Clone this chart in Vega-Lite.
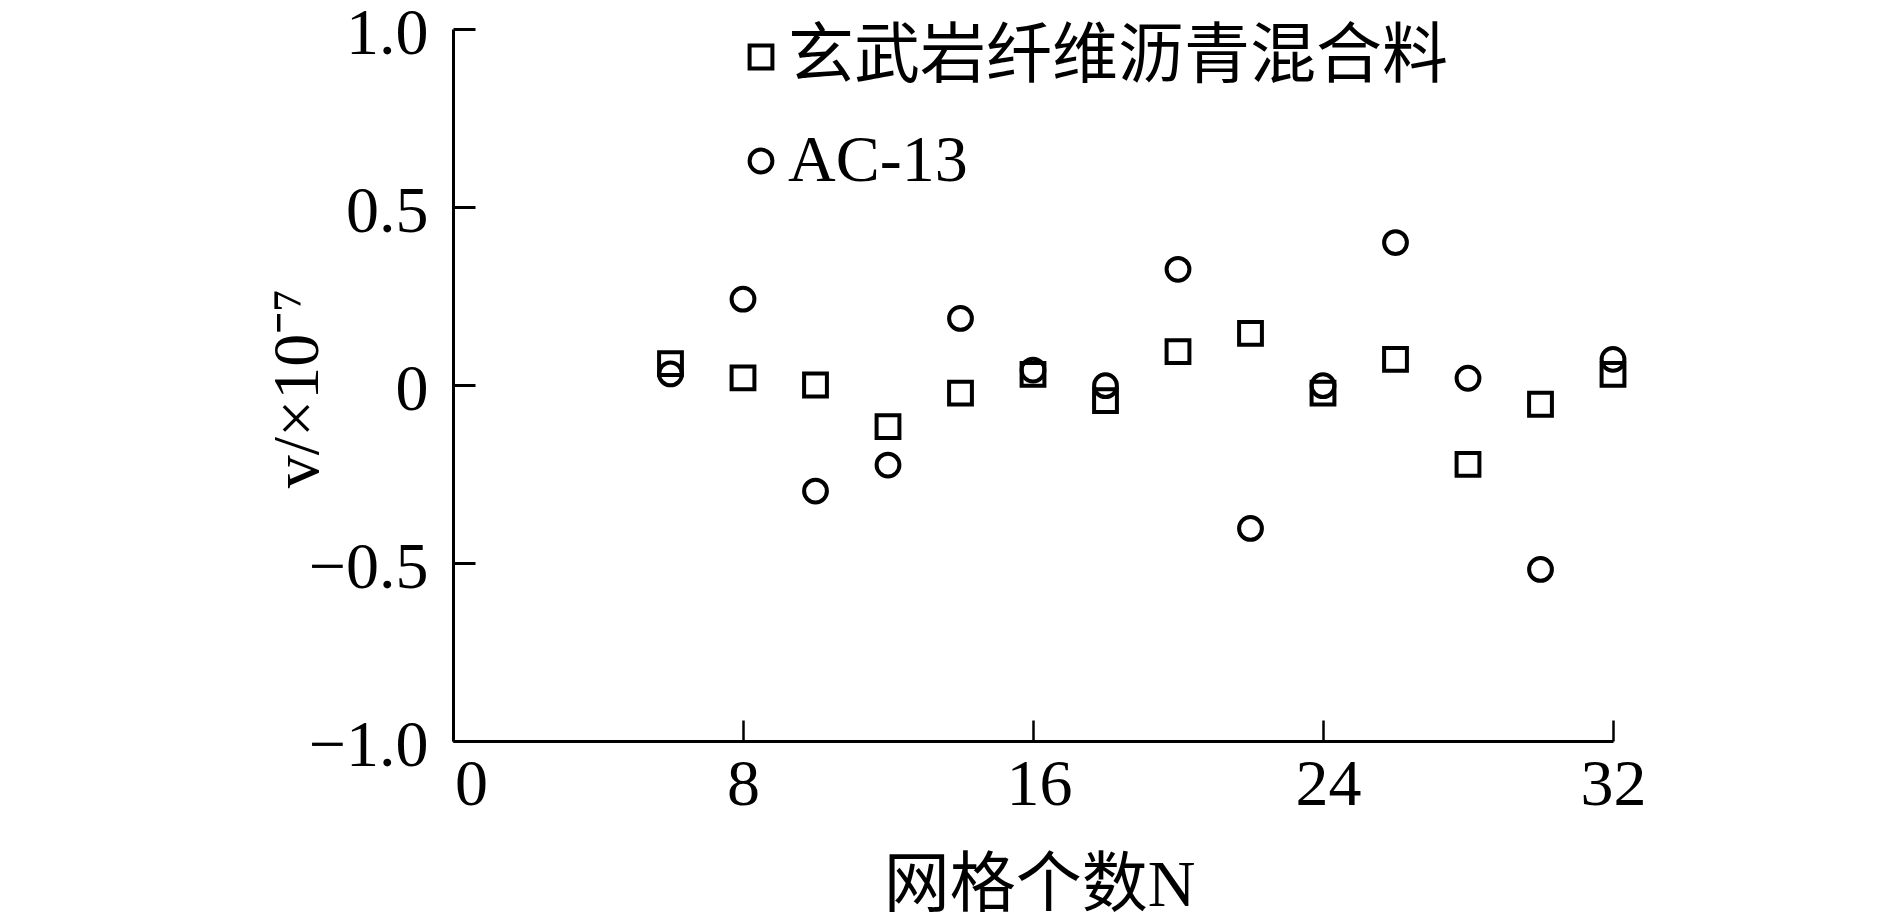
{
  "$schema": "https://vega.github.io/schema/vega-lite/v6.json",
  "width": 1160,
  "height": 712,
  "autosize": "none",
  "padding": {"left": 453, "top": 29, "right": 277, "bottom": 178},
  "background": "white",
  "config": {
    "view": {"stroke": null},
    "font": "Liberation Serif",
    "axis": {"grid": false, "domainColor": "black", "tickColor": "black", "labelColor": "black", "titleColor": "black", "labelFont": "Liberation Serif", "titleFont": "Liberation Serif, Noto Sans CJK SC", "labelFontSize": 66, "titleFontSize": 66, "titleFontWeight": "normal", "domainWidth": 3}
  },
  "data": {
    "values": [
      {"N": 6, "v": 0.06, "s": "玄武岩纤维沥青混合料"},
      {"N": 8, "v": 0.02, "s": "玄武岩纤维沥青混合料"},
      {"N": 10, "v": 0.0, "s": "玄武岩纤维沥青混合料"},
      {"N": 12, "v": -0.117, "s": "玄武岩纤维沥青混合料"},
      {"N": 14, "v": -0.023, "s": "玄武岩纤维沥青混合料"},
      {"N": 16, "v": 0.03, "s": "玄武岩纤维沥青混合料"},
      {"N": 18, "v": -0.044, "s": "玄武岩纤维沥青混合料"},
      {"N": 20, "v": 0.094, "s": "玄武岩纤维沥青混合料"},
      {"N": 22, "v": 0.145, "s": "玄武岩纤维沥青混合料"},
      {"N": 24, "v": -0.023, "s": "玄武岩纤维沥青混合料"},
      {"N": 26, "v": 0.072, "s": "玄武岩纤维沥青混合料"},
      {"N": 28, "v": -0.223, "s": "玄武岩纤维沥青混合料"},
      {"N": 30, "v": -0.054, "s": "玄武岩纤维沥青混合料"},
      {"N": 32, "v": 0.03, "s": "玄武岩纤维沥青混合料"},
      {"N": 6, "v": 0.031, "s": "AC-13"},
      {"N": 8, "v": 0.241, "s": "AC-13"},
      {"N": 10, "v": -0.298, "s": "AC-13"},
      {"N": 12, "v": -0.225, "s": "AC-13"},
      {"N": 14, "v": 0.187, "s": "AC-13"},
      {"N": 16, "v": 0.042, "s": "AC-13"},
      {"N": 18, "v": -0.002, "s": "AC-13"},
      {"N": 20, "v": 0.325, "s": "AC-13"},
      {"N": 22, "v": -0.403, "s": "AC-13"},
      {"N": 24, "v": -0.002, "s": "AC-13"},
      {"N": 26, "v": 0.4, "s": "AC-13"},
      {"N": 28, "v": 0.019, "s": "AC-13"},
      {"N": 30, "v": -0.518, "s": "AC-13"},
      {"N": 32, "v": 0.072, "s": "AC-13"}
    ]
  },
  "mark": {"type": "point", "filled": false, "color": "black", "strokeWidth": 4, "size": 520, "opacity": 1},
  "encoding": {
    "x": {
      "field": "N", "type": "quantitative",
      "scale": {"domain": [0, 32], "nice": false, "zero": false},
      "axis": {
        "values": [0, 8, 16, 24, 32], "tickSize": -21, "tickWidth": 2.5, "labelPadding": 32,
        "labelBaseline": "top", "labelFlush": false, "labelOverlap": false,
        "labelOffset": {"expr": "datum.value === 0 ? 18 : datum.value === 16 ? 6 : datum.value === 24 ? 5 : 0"},
        "title": "网格个数N", "titleX": 586, "titleY": 164, "titleBaseline": "alphabetic", "titleAlign": "center"
      }
    },
    "y": {
      "field": "v", "type": "quantitative",
      "scale": {"domain": [-1, 1], "nice": false, "zero": false},
      "axis": {
        "values": [-1, -0.5, 0, 0.5, 1], "tickSize": -22, "tickWidth": 3, "labelPadding": 47,
        "labelExpr": "datum.value === 0 ? '0' : format(datum.value, '.1f')",
        "labelOffset": 4, "labelFlush": false, "labelOverlap": false,
        "title": "v/×10⁻⁷", "titleAngle": 270, "titleX": -136, "titleY": 359, "titleBaseline": "alphabetic", "titleAlign": "center"
      }
    },
    "shape": {
      "field": "s", "type": "nominal",
      "scale": {"domain": ["玄武岩纤维沥青混合料", "AC-13"], "range": ["square", "circle"]},
      "legend": {
        "title": null, "orient": "none", "legendX": 275, "legendY": -5, "padding": 0,
        "labelFont": "Liberation Serif, Noto Sans CJK SC", "labelFontSize": 66, "labelColor": "black",
        "labelOffset": -6, "rowPadding": 38, "symbolSize": 520, "symbolStrokeWidth": 4,
        "symbolStrokeColor": "black", "symbolFillColor": "transparent", "labelLimit": 1000
      }
    }
  }
}
